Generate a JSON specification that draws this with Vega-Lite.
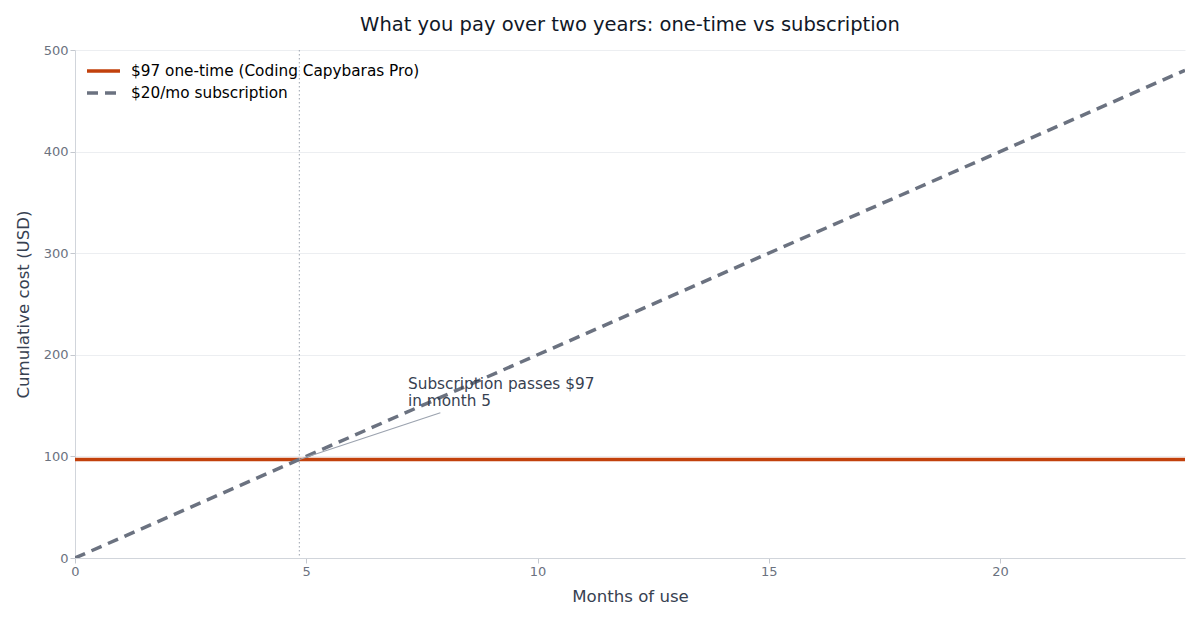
{
  "$schema": "https://vega.github.io/schema/vega-lite/v6.json",
  "autosize": "none",
  "width": 1110,
  "height": 508,
  "padding": {"left": 75, "top": 50, "right": 15, "bottom": 62},
  "background": "white",
  "config": {
    "font": "DejaVu Sans",
    "view": {"stroke": null},
    "axis": {
      "labelColor": "#6b7280",
      "labelFontSize": 13,
      "labelFlush": false,
      "titleColor": "#374151",
      "titleFontSize": 16.6,
      "titleFontWeight": "normal",
      "domainColor": "#d1d5db",
      "tickColor": "#c4c8cf",
      "gridColor": "#eceef1",
      "tickSize": 5
    },
    "legend": {
      "title": null,
      "orient": "none",
      "legendX": 10,
      "legendY": 11,
      "labelFontSize": 15.3,
      "labelColor": "#000000",
      "symbolType": "stroke",
      "symbolStrokeWidth": 3.5,
      "symbolSize": 1089,
      "clipHeight": 20,
      "rowPadding": 2,
      "labelOffset": 9,
      "labelLimit": 400
    }
  },
  "title": {
    "text": "What you pay over two years: one-time vs subscription",
    "fontSize": 19.5,
    "fontWeight": "normal",
    "color": "#111827",
    "anchor": "middle",
    "offset": 9
  },
  "layer": [
    {
      "data": {
        "values": [
          {"month": 0, "cost": 97, "series": "$97 one-time (Coding Capybaras Pro)"},
          {"month": 24, "cost": 97, "series": "$97 one-time (Coding Capybaras Pro)"},
          {"month": 0, "cost": 0, "series": "$20/mo subscription"},
          {"month": 24, "cost": 480, "series": "$20/mo subscription"}
        ]
      },
      "mark": {"type": "line", "strokeWidth": 3.5, "clip": true},
      "encoding": {
        "x": {
          "field": "month", "type": "quantitative",
          "scale": {"domain": [0, 24], "nice": false},
          "axis": {"values": [0, 5, 10, 15, 20], "grid": false, "title": "Months of use", "titlePadding": 10}
        },
        "y": {
          "field": "cost", "type": "quantitative",
          "scale": {"domain": [0, 500], "nice": false},
          "axis": {"values": [0, 100, 200, 300, 400, 500], "grid": true, "title": "Cumulative cost (USD)", "titlePadding": 12}
        },
        "color": {
          "field": "series", "type": "nominal",
          "scale": {"domain": ["$97 one-time (Coding Capybaras Pro)", "$20/mo subscription"], "range": ["#c2410c", "#6b7280"]}
        },
        "strokeDash": {
          "field": "series", "type": "nominal",
          "scale": {"domain": ["$97 one-time (Coding Capybaras Pro)", "$20/mo subscription"], "range": [[1, 0], [11, 7]]}
        }
      }
    },
    {
      "data": {"values": [{"month": 4.85}]},
      "mark": {"type": "rule", "color": "#9ca3af", "strokeWidth": 1, "strokeDash": [1.5, 2.5]},
      "encoding": {"x": {"field": "month", "type": "quantitative"}}
    },
    {
      "data": {"values": [{"month": 4.85, "cost": 97, "month2": 7.9, "cost2": 143}]},
      "mark": {"type": "rule", "color": "#9ca3af", "strokeWidth": 1.2},
      "encoding": {
        "x": {"field": "month", "type": "quantitative"},
        "y": {"field": "cost", "type": "quantitative"},
        "x2": {"field": "month2"},
        "y2": {"field": "cost2"}
      }
    },
    {
      "data": {"values": [{"month": 7.2, "cost": 166, "label": ["Subscription passes $97", "in month 5"]}]},
      "mark": {"type": "text", "align": "left", "baseline": "alphabetic", "fontSize": 15.3, "color": "#374151", "lineHeight": 17},
      "encoding": {
        "x": {"field": "month", "type": "quantitative"},
        "y": {"field": "cost", "type": "quantitative"},
        "text": {"field": "label"}
      }
    }
  ]
}
